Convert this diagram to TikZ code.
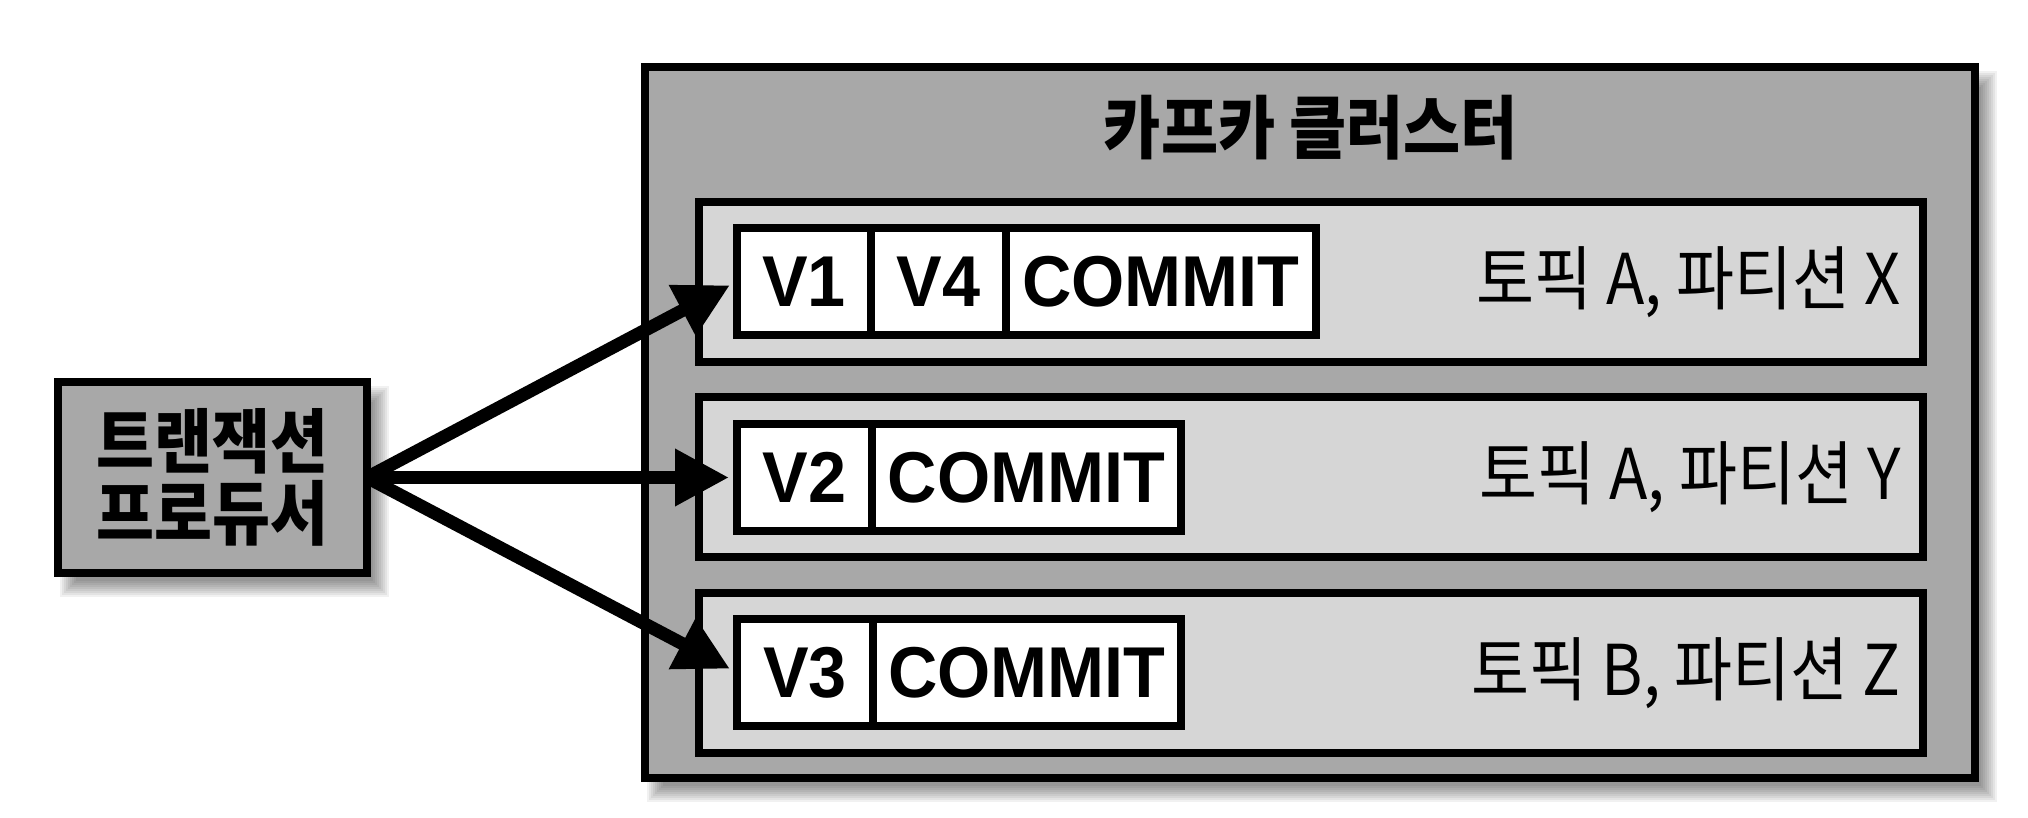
\documentclass[tikz,border=0pt]{standalone}
\usepackage{fontspec}
\setmainfont{Liberation Sans}
\newfontfamily\latfont[FakeStretch=0.95]{Liberation Sans}
\newfontfamily\kofont[FakeStretch=0.9]{Noto Sans CJK KR}
\usetikzlibrary{arrows.meta}
\pgfdeclarelayer{bg}
\pgfsetlayers{bg,main}
\definecolor{clustergray}{RGB}{168,168,168}
\definecolor{partgray}{RGB}{214,214,214}
\tikzset{
  box/.style={draw=black, line width=3.75pt, inner sep=0pt, outer sep=0pt},
  clusterbox/.style={box, fill=clustergray, minimum width=665pt, minimum height=355.5pt},
  prodbox/.style={box, fill=clustergray, minimum width=154.5pt, minimum height=95.5pt,
     align=center, font=\kofont\bfseries\fontsize{35}{36}\selectfont},
  partbox/.style={box, fill=partgray, minimum width=612pt, minimum height=80pt},
  cellbox/.style={box, fill=white, minimum height=53.5pt, font=\latfont\bfseries\fontsize{36}{40}\selectfont},
  plabel/.style={anchor=east, inner sep=0pt, font=\kofont\fontsize{35}{40}\selectfont},
  titlelabel/.style={inner sep=0pt, font=\kofont\bfseries\fontsize{34.5}{40}\selectfont},
  arrowline/.style={line width=6.5pt, -{Triangle[length=27pt,width=27pt]}, shorten >=4pt},
  softshadow/.style={black, opacity=0.055}
}
\begin{document}
\begin{tikzpicture}[x=0.5pt, y=-0.5pt]
\useasboundingbox (0,0) rectangle (2028,818);

% cluster
\node[clusterbox] (cluster) at (1310,422.5) {};
\node[titlelabel] (title) at (1311,128) {카프카 클러스터};

% partitions
\node[partbox] (px) at (1311,282) {};
\node[partbox] (py) at (1311,477) {};
\node[partbox] (pz) at (1311,673) {};

% row 1
\node[cellbox, minimum width=67pt]   (v1) at (804,281.5) {V1};
\node[cellbox, minimum width=67.5pt] (v4) at (938.5,281.5) {V4};
\node[cellbox, minimum width=155pt]  (c1) at (1161,281.5) {COMMIT};
% row 2
\node[cellbox, minimum width=67.5pt] (v2) at (804.5,477.5) {V2};
\node[cellbox, minimum width=154.5pt] (c2) at (1026.5,477.5) {COMMIT};
% row 3
\node[cellbox, minimum width=68pt]   (v3) at (805,672.5) {V3};
\node[cellbox, minimum width=154pt]  (c3) at (1027,672.5) {COMMIT};

% partition labels
\node[plabel] (lx) at (1901,282) {토픽 A, 파티션 X};
\node[plabel] (ly) at (1901,477) {토픽 A, 파티션 Y};
\node[plabel] (lz) at (1901,673) {토픽 B, 파티션 Z};

% producer
\node[prodbox] (prod) at (212.5,477.5) {트랜잭션\\프로듀서};

% arrows
\draw[arrowline] (prod.east) -- (v1.west);
\draw[arrowline] (prod.east) -- (v2.west);
\draw[arrowline] (prod.east) -- (v3.west);

% background and shadows
\begin{pgfonlayer}{bg}
  \fill[white] (0,0) rectangle (2028,818);
  \foreach \d in {0,...,8} {
    \fill[softshadow] ([xshift={(1+\d)*1pt}, yshift={-(2+\d)*1pt}]cluster.north west)
       rectangle ([xshift={(11-\d)*1pt}, yshift={-(12-\d)*1pt}]cluster.south east);
    \fill[softshadow] ([xshift={(1+\d)*1pt}, yshift={-(2+\d)*1pt}]prod.north west)
       rectangle ([xshift={(11-\d)*1pt}, yshift={-(12-\d)*1pt}]prod.south east);
  }
\end{pgfonlayer}
\end{tikzpicture}
\end{document}
